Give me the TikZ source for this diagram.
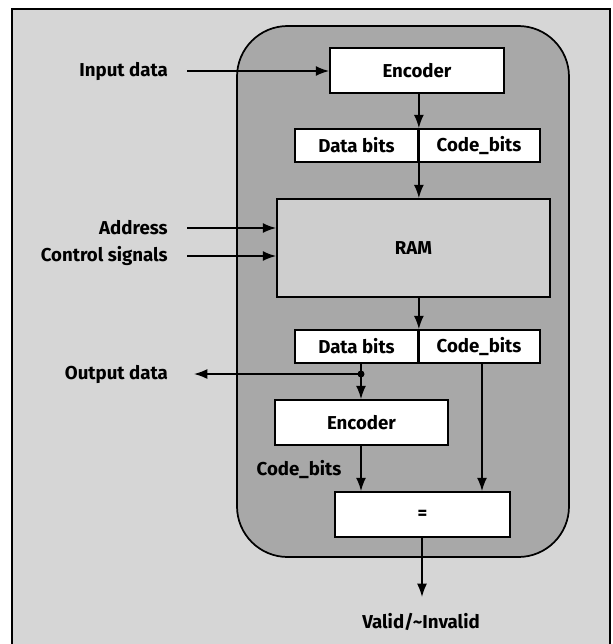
\documentclass[tikz,border=0pt]{standalone}
\usepackage{fontspec}
\setmainfont{Fira Sans}
\usetikzlibrary{arrows.meta}

\definecolor{pagegrey}{RGB}{214,214,214}
\definecolor{panelgrey}{RGB}{168,168,168}
\definecolor{ramgrey}{RGB}{206,206,206}

\tikzset{
  blk/.style={draw, line width=1.3pt, fill=white, inner sep=0pt, font=\fontsize{14}{16}\selectfont\bfseries},
  lbl/.style={inner sep=0.75pt, font=\fontsize{14}{16}\selectfont\bfseries},
  wire/.style={line width=1.2pt},
  arw/.style={wire, -{Latex[length=10pt,width=7.5pt]}}
}

\begin{document}
\begin{tikzpicture}[x=0.75pt,y=0.75pt,yscale=-1,xscale=1]
\useasboundingbox (0,0) rectangle (612,644);

%Shape: page frame
\fill [pagegrey] (12,9) rectangle (610,644);
\draw [line width=0.8pt] (12,644) -- (12,9) -- (610,9) -- (610,644);
%Shape: Rounded panel
\draw [line width=1.3pt, fill=panelgrey, rounded corners=38pt] (237,26) rectangle (569,557);

%Shape: blocks
\node [blk, minimum width=130.5pt, minimum height=33.75pt] (enc1) at (417,70.5) {Encoder};
\node [blk, minimum width=92.25pt, minimum height=24.75pt] (dbitsA) at (356.5,145.5) {Data bits};
\node [blk, minimum width=91.5pt, minimum height=24.75pt] (cbitsA) at (479,145.5) {Code\_bits};
\node [blk, fill=ramgrey, minimum width=204.75pt, minimum height=73.5pt] (ram) at (413.5,248) {RAM};
\node [blk, minimum width=92.25pt, minimum height=24.75pt] (dbitsB) at (356.5,346.5) {Data bits};
\node [blk, minimum width=91.5pt, minimum height=24.75pt] (cbitsB) at (479,346.5) {Code\_bits};
\node [blk, minimum width=129.75pt, minimum height=33.75pt] (enc2) at (361.5,422.5) {Encoder};
\node [blk, minimum width=131.25pt, minimum height=33.75pt] (cmp) at (422.5,514.5) {=};

% Text Node
\node [lbl, anchor=east] (indata) at (169,71) {Input data};
\node [lbl, anchor=east] (addr) at (169,228) {Address};
\node [lbl, anchor=east] (ctrl) at (169,256) {Control signals};
\node [lbl, anchor=east] (outdata) at (169,374) {Output data};
\node [lbl] (codelbl) at (299,470) {Code\_bits};
\node [lbl] (valid) at (421,622) {Valid/\textasciitilde Invalid};

\coordinate (split) at (361,374);
\coordinate (outend) at (194,374);
\coordinate (validend) at (422,597);

%Straight Lines
\draw [arw] (indata.east) ++(18,0) -- (indata.east -| enc1.west);
\draw [arw] (addr.east) ++(18,0) -- (addr.east -| ram.west);
\draw [arw] (ctrl.east) ++(18,0) -- (ctrl.east -| ram.west);
\draw [arw] (enc1.south -| dbitsA.north east) -- (dbitsA.north east);
\draw [wire] (dbitsA.north east) -- (dbitsA.south east);
\draw [arw] (dbitsA.south east) -- (dbitsA.south east |- ram.north);
\draw [arw] (ram.south -| dbitsB.north east) -- (dbitsB.north east);
\draw [wire] (dbitsB.north east) -- (dbitsB.south east);
\draw [wire] (dbitsB.south -| split) -- (split);
\fill (split) circle (3.5);
\draw [arw] (split) -- (split |- enc2.north);
\draw [arw] (split) -- (outend);
\draw [arw] (enc2.south -| split) -- (split |- cmp.north);
\draw [arw] (cbitsB.south -| 482,0) -- (cmp.north -| 482,0);
\draw [arw] (cmp.south -| validend) -- (validend);

\end{tikzpicture}
\end{document}
